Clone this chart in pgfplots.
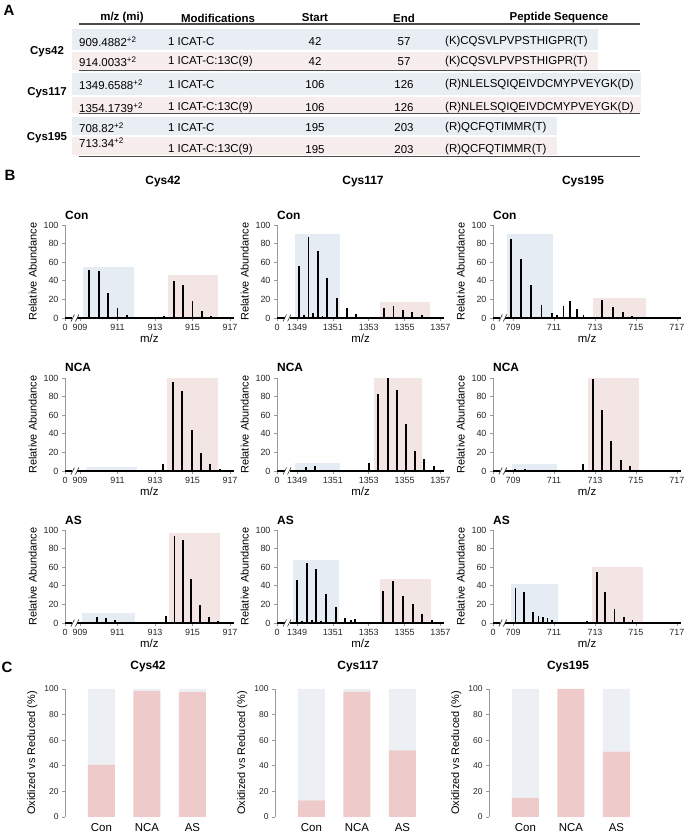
\documentclass[border=0pt]{standalone}
\usepackage{fontspec}
\setmainfont{Liberation Sans}
\usepackage{pgfplots}
\pgfplotsset{compat=1.18}

\definecolor{tblue}{HTML}{E9EEF4}
\definecolor{tpink}{HTML}{F8EDED}
\definecolor{sblue}{HTML}{E6ECF3}
\definecolor{spink}{HTML}{F4E5E5}
\definecolor{cred}{HTML}{EECACA}
\definecolor{cblue}{HTML}{ECF0F5}
\definecolor{axgray}{HTML}{9A9A9A}
\newcommand\fs[1]{\fontsize{#1}{#1}\selectfont}

\pgfplotsset{
  sp/.style={scale only axis, anchor=south west, height=93bp,
    ymin=0, ymax=100, ytick={0,20,...,100},
    axis x line*=bottom, axis y line*=left,
    axis line style={draw=axgray, line width=0.8bp},
    tick style={draw=axgray, line width=0.6bp}, tick align=outside,
    major tick length=3bp,
    tick label style={font=\fs{9}, text=black!85},
    /pgf/number format/assume math mode=true,
    ylabel={Relative Abundance}, xlabel={m/z},
    ylabel style={font=\fs{11}},
    xlabel style={font=\fs{11.5}, yshift=4bp},
    clip=false},
  c1/.style={sp, width=168.75bp, xmin=908.2, xmax=917.2,
    xtick={908.2,909,911,913,915,917}, xticklabels={0,909,911,913,915,917}},
  c2/.style={sp, width=167bp, xmin=1347.88, xmax=1357.2,
    xtick={1347.88,1349,1351,1353,1355,1357}, xticklabels={0,1349,1351,1353,1355,1357}},
  c3/.style={sp, width=188bp, xmin=708.02, xmax=717.2,
    xtick={708.02,709,711,713,715,717}, xticklabels={0,709,711,713,715,717}},
  pk/.style={ycomb, black, line width=1.9bp},
  base/.style={black, line width=1.3bp},
  bars/.style={scale only axis, anchor=south west, width=145.6bp, height=128bp,
    xmin=-0.8, xmax=2.4, ymin=0, ymax=100, ybar stacked, bar width=27bp,
    axis y line*=left, axis x line*=bottom,
    x axis line style={draw=none}, xtick={0,1,2}, xticklabels={Con,NCA,AS},
    xtick style={draw=none}, ytick={0,20,...,100},
    y axis line style={draw=axgray, line width=0.8bp},
    ytick style={draw=axgray, line width=0.6bp}, tick align=outside,
    major tick length=3bp,
    yticklabel style={font=\fs{8.5}, text=black!85},
    xticklabel style={font=\fs{11.5}},
    /pgf/number format/assume math mode=true,
    ylabel={Oxidized vs Reduced (\%)}, ylabel style={font=\fs{11}}},
}

% axis break mark on the x axis
\newcommand\brk[1]{%
  \fill[white] (axis cs:#1,0) ++(-2.5bp,-1.5bp) rectangle ++(5bp,3bp);
  \draw[black!80, line width=0.6bp] (axis cs:#1,0) ++(-4bp,-3.5bp) -- ++(3.5bp,7bp);
  \draw[black!80, line width=0.6bp] (axis cs:#1,0) ++(0.5bp,-3.5bp) -- ++(3.5bp,7bp);}

\newcommand\trow[6]{%
  \node[anchor=west, inner sep=0] at (79bp,#1) {#2\textsuperscript{+2}};
  \node[anchor=west, inner sep=0] at (168bp,#1) {#3};
  \node at (315bp,#1) {#4};
  \node at (404bp,#1) {#5};
  \node[anchor=west, inner sep=0] at (445bp,#1) {#6};}

\begin{document}
\begin{tikzpicture}
\useasboundingbox (0,0) rectangle (685bp,833bp);

% ---------------- A: table
\node[font=\bfseries\fs{15}] at (9bp,823bp) {A};
\fill[tblue] (72bp,804bp) rectangle (598bp,783bp);
\fill[tpink] (72bp,781bp) rectangle (598bp,763bp);
\fill[tblue] (72bp,760bp) rectangle (641bp,738bp);
\fill[tpink] (72bp,736bp) rectangle (641bp,720bp);
\fill[tblue] (72bp,716bp) rectangle (557bp,698bp);
\fill[tpink] (72bp,696bp) rectangle (557bp,678bp);
\draw[line width=1.2bp, black!70] (79bp,809bp) -- (640bp,809bp);
\foreach \yy in {762,719,676}
  \draw[line width=1bp, black!70] (79bp,\yy bp) -- (640bp,\yy bp);
\begin{scope}[font=\bfseries\fs{11.5}]
  \node at (122bp,815bp) {m/z (mi)};
  \node at (218bp,815bp) {Modifications};
  \node at (315bp,815bp) {Start};
  \node at (404bp,815bp) {End};
  \node at (559bp,815bp) {Peptide Sequence};
  \node at (47bp,781bp) {Cys42};
  \node at (47bp,740bp) {Cys117};
  \node at (47bp,695bp) {Cys195};
\end{scope}
\begin{scope}[font=\fs{11.5}]
  \trow{791bp}{909.4882}{1 ICAT-C}{42}{57}{(K)CQSVLPVPSTHIGPR(T)}
  \trow{771bp}{914.0033}{1 ICAT-C:13C(9)}{42}{57}{(K)CQSVLPVPSTHIGPR(T)}
  \trow{748bp}{1349.6588}{1 ICAT-C}{106}{126}{(R)NLELSQIQEIVDCMYPVEYGK(D)}
  \trow{725bp}{1354.1739}{1 ICAT-C:13C(9)}{106}{126}{(R)NLELSQIQEIVDCMYPVEYGK(D)}
  \trow{705bp}{708.82}{1 ICAT-C}{195}{203}{(R)QCFQTIMMR(T)}
  \node[anchor=west, inner sep=0] at (79bp,690bp) {713.34\textsuperscript{+2}};
  \node[anchor=west, inner sep=0] at (168bp,683bp) {1 ICAT-C:13C(9)};
  \node at (315bp,683bp) {195};
  \node at (404bp,683bp) {203};
  \node[anchor=west, inner sep=0] at (445bp,683bp) {(R)QCFQTIMMR(T)};
\end{scope}

% ---------------- B: spectra
\node[font=\bfseries\fs{15}] at (10bp,658bp) {B};
\begin{scope}[font=\bfseries\fs{12}]
  \node at (163bp,651bp) {Cys42};
  \node at (363bp,651bp) {Cys117};
  \node at (583bp,651bp) {Cys195};
  \node[anchor=base west, inner sep=0] at (65bp,613bp) {Con};
  \node[anchor=base west, inner sep=0] at (277bp,613bp) {Con};
  \node[anchor=base west, inner sep=0] at (493bp,613bp) {Con};
  \node[anchor=base west, inner sep=0] at (65bp,461bp) {NCA};
  \node[anchor=base west, inner sep=0] at (277bp,461bp) {NCA};
  \node[anchor=base west, inner sep=0] at (493bp,461bp) {NCA};
  \node[anchor=base west, inner sep=0] at (65bp,308bp) {AS};
  \node[anchor=base west, inner sep=0] at (277bp,308bp) {AS};
  \node[anchor=base west, inner sep=0] at (493bp,308bp) {AS};
\end{scope}

% Cys42 / Con
\begin{axis}[c1, at={(65bp,515bp)}]
  \addplot[fill=sblue, draw=none] coordinates {(909.18,55)(911.88,55)} \closedcycle;
  \addplot[fill=spink, draw=none] coordinates {(913.71,46)(916.38,46)} \closedcycle;
  \addplot[base] coordinates {(908.2,0)(908.62,0)};
  \addplot[base] coordinates {(908.84,0)(917.2,0)};
  \addplot[pk] coordinates {(909.5,52)(910.0,51)(910.5,27)(911.0,11)(911.5,3)(912.0,1)
    (913.5,2)(914.0,40)(914.5,35)(915.0,18)(915.5,7)(916.0,2)(916.5,0.6)};
  \brk{908.73}
\end{axis}
% Cys117 / Con
\begin{axis}[c2, at={(277bp,515bp)}]
  \addplot[fill=sblue, draw=none] coordinates {(1348.89,90)(1351.39,90)} \closedcycle;
  \addplot[fill=spink, draw=none] coordinates {(1353.6,17)(1356.44,17)} \closedcycle;
  \addplot[base] coordinates {(1347.88,0)(1348.33,0)};
  \addplot[base] coordinates {(1348.55,0)(1357.2,0)};
  \addplot[pk] coordinates {(1349.11,56)(1349.37,3)(1349.64,87)(1349.90,5)(1350.16,72)
    (1350.42,2)(1350.68,43)(1351.21,21)(1351.77,11)(1352.29,4)(1352.51,1)(1352.79,1)
    (1353.32,1)(1353.86,11)(1354.38,13)(1354.91,9)(1355.43,6)(1355.95,3)(1356.44,1)};
  \brk{1348.44}
\end{axis}
% Cys195 / Con
\begin{axis}[c3, at={(493bp,515bp)}]
  \addplot[fill=sblue, draw=none] coordinates {(708.7,90)(710.97,90)} \closedcycle;
  \addplot[fill=spink, draw=none] coordinates {(712.89,22)(715.48,22)} \closedcycle;
  \addplot[base] coordinates {(708.02,0)(708.4,0)};
  \addplot[base] coordinates {(708.6,0)(717.2,0)};
  \addplot[pk] coordinates {(708.89,85)(709.38,63)(709.89,35)(710.39,14)(710.89,5)
    (711.13,3)(711.46,13)(711.79,18)(712.11,10)(712.44,3)(712.85,1)
    (713.34,19)(713.87,12)(714.36,6)(714.82,2)};
  \brk{708.5}
\end{axis}

% Cys42 / NCA
\begin{axis}[c1, at={(65bp,362bp)}]
  \addplot[fill=sblue, draw=none] coordinates {(909.32,4)(912.02,4)} \closedcycle;
  \addplot[fill=spink, draw=none] coordinates {(913.66,100)(916.38,100)} \closedcycle;
  \addplot[base] coordinates {(908.2,0)(908.62,0)};
  \addplot[base] coordinates {(908.84,0)(917.2,0)};
  \addplot[pk] coordinates {(909.55,1.5)(910.05,1.5)(910.55,0.8)(913.45,7)(913.95,96)
    (914.45,86)(914.95,44)(915.45,19)(915.95,7)(916.45,2)(916.9,0.5)};
  \brk{908.73}
\end{axis}
% Cys117 / NCA
\begin{axis}[c2, at={(277bp,362bp)}]
  \addplot[fill=sblue, draw=none] coordinates {(1348.89,9)(1351.39,9)} \closedcycle;
  \addplot[fill=spink, draw=none] coordinates {(1353.3,100)(1355.97,100)} \closedcycle;
  \addplot[base] coordinates {(1347.88,0)(1348.33,0)};
  \addplot[base] coordinates {(1348.55,0)(1357.2,0)};
  \addplot[pk] coordinates {(1349.49,4)(1349.99,5)(1353.02,9)(1353.52,83)(1354.05,100)
    (1354.57,87)(1355.09,50)(1355.6,21)(1356.1,13)(1356.63,5)};
  \brk{1348.44}
\end{axis}
% Cys195 / NCA
\begin{axis}[c3, at={(493bp,362bp)}]
  \addplot[fill=sblue, draw=none] coordinates {(708.95,8)(711.16,8)} \closedcycle;
  \addplot[fill=spink, draw=none] coordinates {(712.67,100)(715.17,100)} \closedcycle;
  \addplot[base] coordinates {(708.02,0)(708.4,0)};
  \addplot[base] coordinates {(708.6,0)(717.2,0)};
  \addplot[pk] coordinates {(709.08,2)(709.57,2)(712.4,7)(712.89,99)(713.36,66)
    (713.8,32)(714.26,12)(714.71,5)(715.2,1)};
  \brk{708.5}
\end{axis}

% Cys42 / AS
\begin{axis}[c1, at={(65bp,210bp)}]
  \addplot[fill=sblue, draw=none] coordinates {(909.13,11)(911.93,11)} \closedcycle;
  \addplot[fill=spink, draw=none] coordinates {(913.73,97)(916.46,97)} \closedcycle;
  \addplot[base] coordinates {(908.2,0)(908.62,0)};
  \addplot[base] coordinates {(908.84,0)(917.2,0)};
  \addplot[pk] coordinates {(909.9,6)(910.4,5)(910.85,3)(911.3,1.5)(911.8,0.5)
    (913.59,7)(914.04,94)(914.49,89)(914.94,47)(915.42,19)(915.89,6)(916.37,2)};
  \brk{908.73}
\end{axis}
% Cys117 / AS
\begin{axis}[c2, at={(277bp,210bp)}]
  \addplot[fill=sblue, draw=none] coordinates {(1348.78,68)(1351.32,68)} \closedcycle;
  \addplot[fill=spink, draw=none] coordinates {(1353.6,47)(1356.48,47)} \closedcycle;
  \addplot[base] coordinates {(1347.88,0)(1348.33,0)};
  \addplot[base] coordinates {(1348.55,0)(1357.2,0)};
  \addplot[pk] coordinates {(1349.0,46)(1349.28,2)(1349.56,65)(1349.82,3)(1350.08,58)
    (1350.35,2)(1350.61,31)(1351.15,17)(1351.69,5)(1351.99,3)(1352.23,4)
    (1353.82,34)(1354.36,45)(1354.91,29)(1355.45,20)(1355.97,10)(1356.53,3)};
  \brk{1348.44}
\end{axis}
% Cys195 / AS
\begin{axis}[c3, at={(493bp,210bp)}]
  \addplot[fill=sblue, draw=none] coordinates {(708.92,42)(711.18,42)} \closedcycle;
  \addplot[fill=spink, draw=none] coordinates {(712.86,60)(715.35,60)} \closedcycle;
  \addplot[base] coordinates {(708.02,0)(708.4,0)};
  \addplot[base] coordinates {(708.6,0)(717.2,0)};
  \addplot[pk] coordinates {(709.12,38)(709.54,33)(709.99,12)(710.24,8)(710.45,6)
    (710.68,5)(710.9,3)(712.2,1)(712.63,2)(713.08,55)(713.5,33)(713.95,15)
    (714.4,6)(714.83,3)(715.72,1)(716.6,1)};
  \brk{708.5}
\end{axis}

% ---------------- C: oxidized vs reduced
\node[font=\bfseries\fs{15}] at (7bp,166bp) {C};
\begin{scope}[font=\bfseries\fs{12}]
  \node at (148bp,166bp) {Cys42};
  \node at (358bp,166bp) {Cys117};
  \node at (568bp,166bp) {Cys195};
\end{scope}
\begin{axis}[bars, at={(65bp,16bp)}]
  \addplot[fill=cred, draw=none] coordinates {(0,41)(1,98.5)(2,97.5)};
  \addplot[fill=cblue, draw=none] coordinates {(0,59)(1,1.5)(2,2.5)};
\end{axis}
\begin{axis}[bars, at={(275bp,16bp)}]
  \addplot[fill=cred, draw=none] coordinates {(0,13)(1,98)(2,52)};
  \addplot[fill=cblue, draw=none] coordinates {(0,87)(1,2)(2,48)};
\end{axis}
\begin{axis}[bars, at={(489bp,16bp)}]
  \addplot[fill=cred, draw=none] coordinates {(0,15)(1,100)(2,51)};
  \addplot[fill=cblue, draw=none] coordinates {(0,85)(1,0)(2,49)};
\end{axis}
\end{tikzpicture}
\end{document}
